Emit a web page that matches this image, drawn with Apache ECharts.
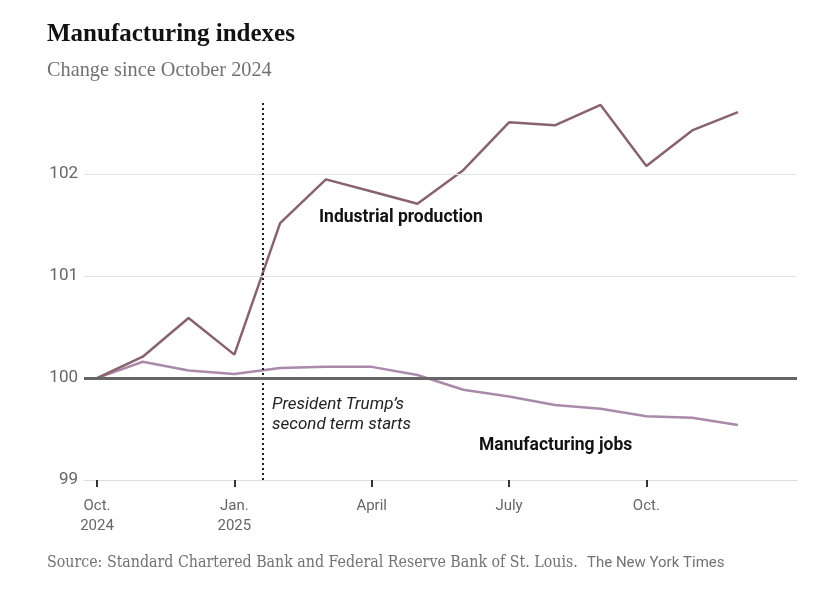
<!DOCTYPE html>
<html>
<head>
<meta charset="utf-8">
<script src="https://cdn.jsdelivr.net/npm/echarts@6/dist/echarts.min.js"></script>
<style>
html,body{margin:0;padding:0;background:#fff;}
#c{width:825px;height:601px;}
</style>
</head>
<body>
<div id="c"></div>
<script>
// Month index: 0 = Oct 2024 ... 14 = Dec 2025
const months = ["Oct 2024","Nov 2024","Dec 2024","Jan 2025","Feb 2025","Mar 2025","Apr 2025","May 2025","Jun 2025","Jul 2025","Aug 2025","Sep 2025","Oct 2025","Nov 2025","Dec 2025"];
const industrialProduction = [100, 100.21, 100.59, 100.23, 101.52, 101.95, 101.83, 101.71, 102.04, 102.51, 102.48, 102.68, 102.08, 102.43, 102.61];
const manufacturingJobs = [100, 100.16, 100.075, 100.04, 100.10, 100.11, 100.11, 100.03, 99.885, 99.82, 99.735, 99.70, 99.625, 99.61, 99.54];
const xTickValues = [0, 3, 6, 9, 12];
const xTickLabels = ["Oct.\n2024", "Jan.\n2025", "April", "July", "Oct."];
const yTickValues = [99, 100, 101, 102];
const trumpStart = 3.62; // Jan. 20, 2025

const sans = "Roboto,'Liberation Sans',sans-serif";
const serif = "'Liberation Serif','DejaVu Serif',serif";
const serifC = "'DejaVu Serif Condensed','Liberation Serif',serif";

const chart = echarts.init(document.getElementById('c'), null, {renderer:'canvas'});
chart.setOption({
  animation: false,
  backgroundColor: '#fff',
  title: [
    {text: 'Manufacturing indexes', left: 47, top: 22, padding: 0,
     textStyle: {fontFamily: serif, fontWeight: 'bold', fontSize: 25, color: '#121212'}},
    {text: 'Change since October 2024', left: 47, top: 61, padding: 0,
     textStyle: {fontFamily: serif, fontWeight: 'normal', fontSize: 20.3, color: '#727272'}}
  ],
  grid: {left: 84, right: 28, top: 102.9, bottom: 121, containLabel: false},
  xAxis: {
    type: 'value', min: -0.284, max: 15.29,
    splitLine: {show: false},
    axisLine: {show: true, onZero: false, lineStyle: {color: '#dcdcdc', width: 1}},
    axisTick: {show: true, customValues: xTickValues, length: 7, lineStyle: {color: '#333', width: 2}},
    axisLabel: {customValues: xTickValues, margin: 16, color: '#666', fontFamily: sans, fontSize: 15, lineHeight: 20,
      formatter: v => xTickLabels[xTickValues.indexOf(v)] || ''}
  },
  yAxis: {
    type: 'value', min: 99, max: 102.7,
    splitLine: {show: false},
    axisLine: {show: false},
    axisTick: {show: false},
    axisLabel: {customValues: yTickValues, margin: 6, color: '#666', fontFamily: sans, fontSize: 17}
  },
  series: [
    {
      name: 'Grid', type: 'line', data: [], silent: true,
      markLine: {
        silent: true, symbol: 'none', label: {show: false},
        data: [
          {yAxis: 101, lineStyle: {color: '#e4e4e4', width: 1, type: 'solid'}},
          {yAxis: 102, lineStyle: {color: '#e4e4e4', width: 1, type: 'solid'}}
        ]
      }
    },
    {
      name: 'Industrial production', type: 'line',
      data: industrialProduction.map((v, i) => [i, v]),
      showSymbol: false, z: 3,
      lineStyle: {color: '#88636f', width: 2.5},
      markLine: {
        silent: true, symbol: 'none', label: {show: false},
        data: [
          {xAxis: trumpStart, lineStyle: {color: '#222', width: 2, type: [2, 3]}}
        ]
      }
    },
    {
      name: 'Manufacturing jobs', type: 'line',
      data: manufacturingJobs.map((v, i) => [i, v]),
      showSymbol: false, z: 2,
      lineStyle: {color: '#a98aaa', width: 2.5}
    },
    {
      name: 'Base', type: 'line', data: [], silent: true, z: 4,
      markLine: {
        silent: true, symbol: 'none', label: {show: false},
        data: [{yAxis: 100, lineStyle: {color: '#666', width: 3, type: 'solid'}}]
      }
    }
  ],
  graphic: [
    {type: 'text', left: 319, top: 209, style: {text: 'Industrial production', fontFamily: sans, fontWeight: 'bold', fontSize: 17.5, fill: '#121212'}},
    {type: 'text', left: 479, top: 437, style: {text: 'Manufacturing jobs', fontFamily: sans, fontWeight: 'bold', fontSize: 17.5, fill: '#121212'}},
    {type: 'text', left: 272, top: 395, style: {text: 'President Trump\u2019s\nsecond term starts', fontFamily: sans, fontStyle: 'italic', fontSize: 17, lineHeight: 20, fill: '#222'}},
    {type: 'text', left: 47, top: 555, style: {text: 'Source: Standard Chartered Bank and Federal Reserve Bank of St. Louis.', fontFamily: serifC, fontSize: 15.8, fill: '#727272'}},
    {type: 'text', left: 587, top: 556, style: {text: 'The New York Times', fontFamily: sans, fontSize: 15, fill: '#727272'}}
  ]
});
</script>
</body>
</html>
